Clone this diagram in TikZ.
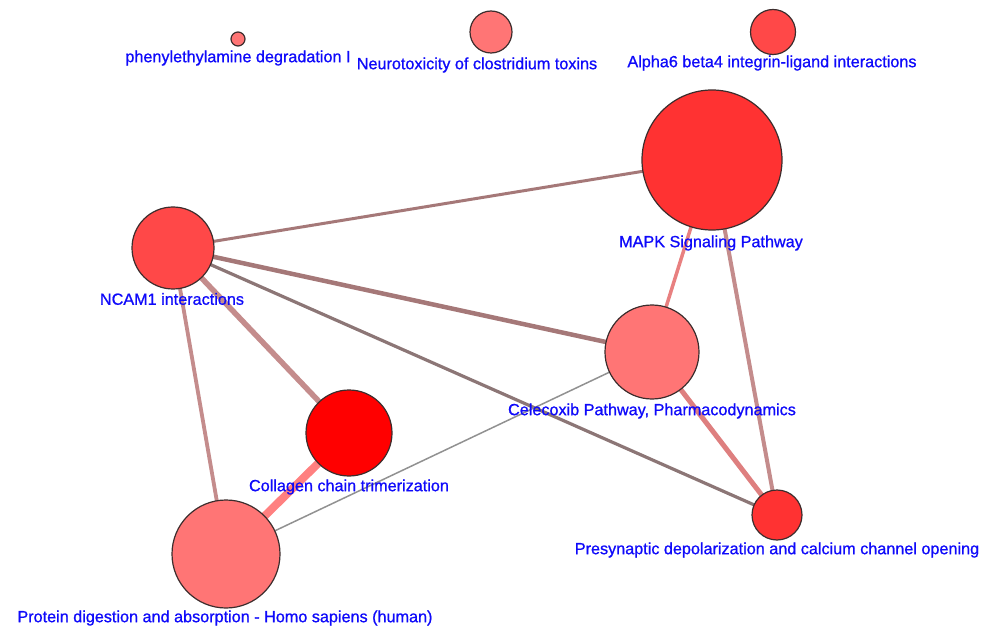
\documentclass[tikz,border=0pt]{standalone}
\usepackage{fontspec}
\setmainfont{Liberation Sans}
\newfontfamily\lblfont[FakeBold=0.9]{Liberation Sans}
\pgfdeclarelayer{background}
\pgfsetlayers{background,main}
\definecolor{lblblue}{RGB}{15,10,250}
\definecolor{nodeline}{RGB}{60,45,45}
\definecolor{fRed}{RGB}{255,0,0}
\definecolor{fDeep}{RGB}{255,50,50}
\definecolor{fMid}{RGB}{255,72,72}
\definecolor{fLight}{RGB}{255,117,117}
\definecolor{eBrown}{RGB}{165,120,120}
\definecolor{eGreyBrown}{RGB}{140,118,118}
\definecolor{eRose}{RGB}{196,140,140}
\definecolor{ePink}{RGB}{232,128,128}
\definecolor{eSalmon}{RGB}{255,128,128}
\definecolor{eGrey}{RGB}{145,145,145}
\tikzset{
  pathway/.style={circle, draw=nodeline, line width=1.2pt, inner sep=0pt, minimum size=#1},
  lbl/.style={text=lblblue, font=\lblfont\fontsize{16.2}{18}\selectfont, inner sep=0pt, anchor=center},
  link/.style={line width=#1, line cap=round}
}
\begin{document}
\begin{tikzpicture}[x=1pt, y=-1pt]
  \useasboundingbox (0,0) rectangle (994,631);
  % pathway nodes (diameter in px)
  \node[pathway=14pt, fill=fLight] (phen) at (238,39) {};
  \node[pathway=42pt, fill=fLight] (neuro) at (491,32) {};
  \node[pathway=45pt, fill=fMid]   (alpha) at (773,32) {};
  \node[pathway=140pt, fill=fDeep] (mapk) at (712,160) {};
  \node[pathway=82pt, fill=fMid]   (ncam) at (173,248) {};
  \node[pathway=94pt, fill=fLight] (celec) at (652,352) {};
  \node[pathway=86pt, fill=fRed]   (coll) at (349,433) {};
  \node[pathway=108pt, fill=fLight] (prot) at (226,554) {};
  \node[pathway=50pt, fill=fDeep]  (pres) at (777,515) {};
  % labels
  \node[lbl] (phenL)  at (238,58)  {phenylethylamine degradation I};
  \node[lbl] (neuroL) at (477,65)  {Neurotoxicity of clostridium toxins};
  \node[lbl] (alphaL) at (772,63)  {Alpha6 beta4 integrin-ligand interactions};
  \node[lbl] (mapkL)  at (711,243) {MAPK Signaling Pathway};
  \node[lbl] (ncamL)  at (172,299) {NCAM1 interactions};
  \node[lbl] (celecL) at (652,411) {Celecoxib Pathway, Pharmacodynamics};
  \node[lbl] (collL)  at (349,487) {Collagen chain trimerization};
  \node[lbl] (protL)  at (225,618) {Protein digestion and absorption - Homo sapiens (human)};
  \node[lbl] (presL)  at (777,550) {Presynaptic depolarization and calcium channel opening};
  % edges behind the nodes
  \begin{pgfonlayer}{background}
    \draw[link=3pt, draw=eBrown]     (ncam.center) -- (mapk.center);
    \draw[link=4.5pt, draw=eBrown]   (ncam.center) -- (celec.center);
    \draw[link=3.2pt, draw=eGreyBrown] (ncam.center) -- (pres.center);
    \draw[link=5.5pt, draw=eRose]    (ncam.center) -- (coll.center);
    \draw[link=3.8pt, draw=eRose]    (ncam.center) -- (prot.center);
    \draw[link=3.5pt, draw=ePink]    (mapk.center) -- (celec.center);
    \draw[link=4pt, draw=eRose]      (mapk.center) -- (pres.center);
    \draw[link=5pt, draw=ePink!85!eBrown] (celec.center) -- (pres.center);
    \draw[link=1.5pt, draw=eGrey]    (celec.center) -- (prot.center);
    \draw[link=8pt, draw=eSalmon]    (coll.center) -- (prot.center);
  \end{pgfonlayer}
\end{tikzpicture}
\end{document}
